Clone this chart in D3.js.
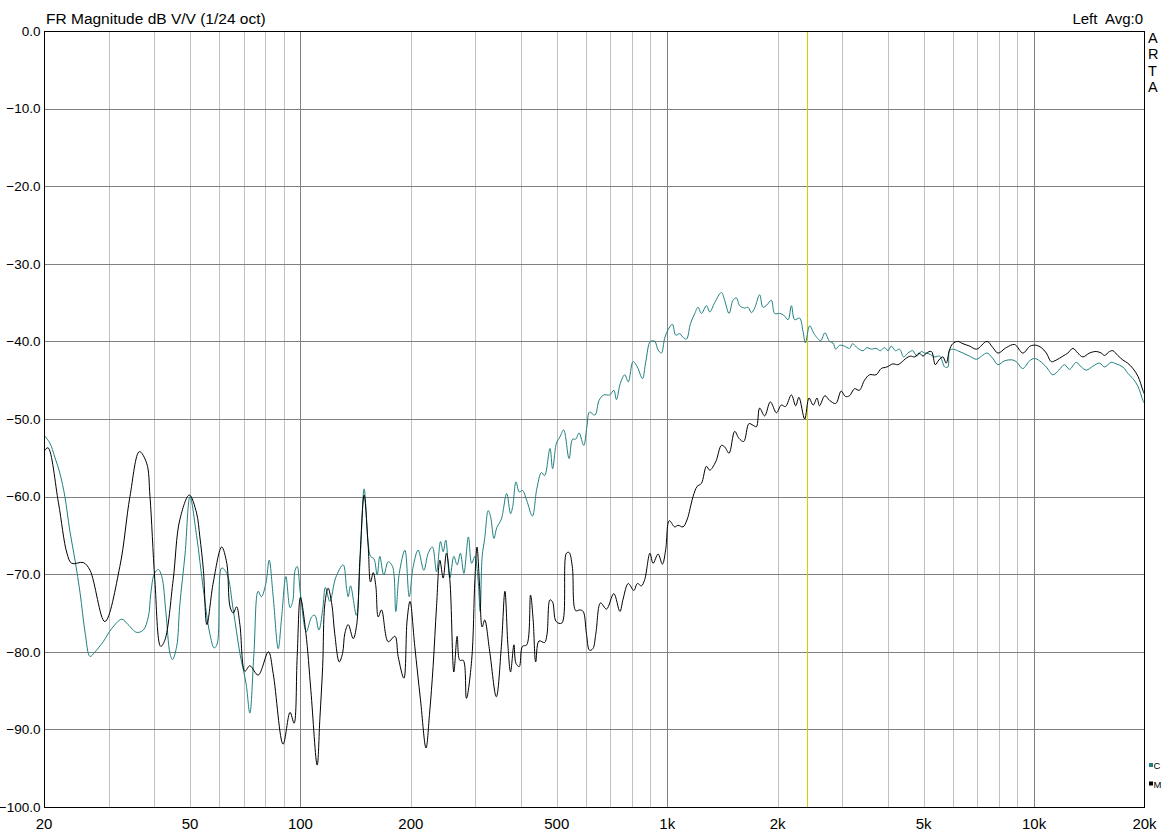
<!DOCTYPE html>
<html><head><meta charset="utf-8">
<script src="https://cdn.jsdelivr.net/npm/d3@7"></script>
<style>
html,body{margin:0;padding:0;background:#fff;overflow:hidden;}
svg text{font-family:"Liberation Sans",Arial,sans-serif;fill:#000;}
</style></head>
<body>
<svg id="chart" width="1162" height="836"></svg>
<script>
// ---- data ----
const xTickValues = [20,50,100,200,500,1000,2000,5000,10000,20000];
const xTickLabels = ["20","50","100","200","500","1k","2k","5k","10k","20k"];
const yTickValues = [0,-10,-20,-30,-40,-50,-60,-70,-80,-90,-100];
const cursorFreq = 2400;

const blackFreq = [20,20.5,21.9,23.1,23.8,25.6,26.7,29.3,32.2,34.3,
36.4,38.1,38.9,40.1,41.6,42.7,45.0,46.9,49.8,52.1,
53.2,54.4,55.6,57.9,61.0,63.0,64.3,65.6,67.0,68.4,
70.6,72.8,76.7,81.8,84.3,89.7,93.7,96.1,98.0,100,
103.5,106.8,111.1,113,115,116.6,119,121.9,124,127.6,
130.3,132.2,135,139.3,142.3,145.3,149.2,153,155.3,158,
160.6,163,166.4,173.5,181,184.7,191.5,195.4,199,205,
212.5,220,225,230,235,240,245,250,255.5,262,
267.5,272,278,283.5,293,299,303,308,313,318,
328,342,353,361,368,374,382,387,395,403,
414,424,431,438,447,463,470,479,487,498,
516,531,540,551,563,578,590,602,614,627,
639,658,683,715,743,758,783,811,829,850,
868,897,915,944,970,990,1013,1048,1070,1104,
1132,1176,1206,1239,1279,1306,1356,1405,1434,1474,
1527,1569,1616,1670,1713,1750,1786,1843,1910,1985,
2046,2100,2180,2240,2285,2370,2435,2500,2560,2600,
2690,2770,2880,2980,3060,3140,3240,3340,3450,3560,
3710,3830,3970,4120,4250,4350,4470,4600,4730,4860,
4980,5090,5250,5380,5500,5640,5760,5880,6000,6190,
6400,6670,6970,7440,7720,7970,8400,8850,9320,9760,
10140,10460,10800,11140,11500,11980,12360,12760,13160,13580,
14160,14770,15240,15560,16060,16400,16900,17460,18000,18600,
19200,19800,20000];
const blackDb = [-54.2,-53.7,-60.8,-67.3,-68.6,-68.5,-69.5,-76.1,-69.0,-60.0,
-54.2,-55.7,-60.0,-70.7,-79.3,-78.5,-70.7,-63.0,-59.8,-62.1,
-65.2,-69.5,-76.5,-71.0,-66.5,-68.6,-74.2,-75.0,-74.2,-76.5,
-82.5,-81.8,-83.0,-80.0,-82.8,-91.9,-87.8,-89.2,-80.6,-73.0,
-77.6,-85.0,-94.6,-88.6,-81.9,-73.8,-71.8,-74.0,-77.6,-81.3,
-80.2,-77.6,-76.5,-78.3,-76.6,-68.0,-59.8,-66.3,-71.0,-69.8,
-71.6,-75.5,-74.6,-78.7,-78.0,-80.6,-83.4,-75.9,-73.5,-79.3,
-86.2,-92.4,-87.9,-81.9,-74.2,-68.2,-70.5,-67.3,-70.7,-82.6,
-78.0,-81.1,-81.1,-86.0,-81.1,-70.7,-66.5,-71.6,-76.8,-75.9,
-79.9,-85.8,-79.3,-72.2,-79.3,-82.6,-79.1,-81.5,-81.9,-79.3,
-79.1,-72.7,-75.9,-81.3,-78.6,-78.8,-77.8,-73.3,-73.6,-76.1,
-76.3,-67.3,-67.2,-69.0,-74.7,-74.6,-74.8,-77.6,-79.8,-79.6,
-77.6,-73.7,-74.5,-72.5,-74.8,-73.2,-71.2,-72.1,-71.2,-71.5,
-70.7,-67.3,-68.6,-67.4,-68.7,-66.9,-63.1,-63.9,-63.7,-63.9,
-63.0,-60.0,-58.7,-58.3,-56.1,-56.6,-55.5,-53.4,-53.6,-54.4,
-51.6,-52.5,-52.9,-50.6,-50.8,-51.0,-48.6,-49.6,-47.8,-49.2,
-48.2,-48.4,-46.9,-48.3,-47.2,-50.0,-47.3,-48.2,-47.3,-48.3,
-47.0,-47.6,-48.0,-46.4,-47.1,-47.0,-46.1,-46.3,-45.0,-44.3,
-44.3,-43.5,-43.3,-42.9,-43.0,-42.7,-42.2,-41.9,-42.0,-41.5,
-41.9,-41.5,-41.3,-43.0,-42.4,-42.0,-42.8,-41.1,-40.3,-40.0,
-40.3,-40.6,-41.0,-40.0,-40.8,-41.5,-40.8,-40.4,-41.5,-40.6,
-40.5,-40.8,-41.5,-42.6,-42.4,-41.9,-41.5,-40.9,-41.5,-42.0,
-41.5,-41.3,-41.5,-41.8,-41.3,-41.2,-41.8,-42.4,-42.8,-43.5,
-44.5,-46.3,-46.8];

const tealFreq = [20,20.75,21.4,22.1,22.8,23.5,24.3,25.1,25.9,26.7,
27.55,29.0,30.6,32.6,33.9,35.8,37.3,38.5,39.1,40.0,
41.0,41.9,43.0,44.1,44.8,46.0,46.9,48.5,50.0,52.1,
54.4,56.6,58.2,59.3,61.0,63.0,65.6,68.4,71.1,72.8,
74.7,76.7,78.3,80.5,82.2,84.3,87.0,88.9,91.3,93.7,
95.3,96.7,98.0,100,103.8,107.3,109.5,112.3,115,117,
120.3,124.9,130.8,133.6,135,137,142.1,145.7,149.2,153,
155.3,158.6,161.9,164.6,168.8,173.5,178.3,182,186,192.7,
198,203,209.4,217,223,229,235,241,245,249,
255.5,262,267.5,273,279,287,293,299,305,309,
313,318,325,330,337,343,353,365,374,379,
387,395,403,414,429,441,454,463,479,487,
499,510,522,540,552,563,575,592,604,614,
635,652,671,697,715,727,745,766,783,807,
829,856,874,900,925,944,964,984,1005,1033,
1055,1082,1100,1128,1157,1189,1213,1239,1279,1306,
1347,1405,1434,1474,1511,1544,1576,1627,1660,1696,
1731,1786,1824,1869,1922,1963,2025,2075,2135,2180,
2225,2295,2345,2380,2445,2520,2620,2690,2770,2830,
2880,2950,3040,3140,3200,3310,3420,3500,3600,3710,
3810,3910,4000,4080,4190,4300,4410,4530,4670,4790,
4930,5030,5170,5360,5530,5710,5820,5880,6000,6190,
6400,6670,6970,7190,7440,7720,7970,8310,8760,8980,
9320,9720,10030,10350,10800,11250,11680,12110,12490,13030,
13450,13880,14460,15080,15560,16230,16750,17460,18000,18600,
19200,19800,20000];
const tealDb = [-52.1,-53.1,-54.9,-57.0,-60.0,-64.3,-68.2,-72.5,-77.6,-80.6,
-80.0,-78.7,-77.0,-75.8,-76.5,-77.5,-77.2,-75.5,-72.5,-69.9,
-69.4,-70.3,-75.0,-80.2,-81.0,-79.3,-74.0,-67.3,-60.0,-65.0,
-72.0,-77.6,-79.5,-79.0,-69.2,-69.9,-74.6,-80.2,-84.1,-87.9,
-80.2,-72.2,-72.9,-71.2,-68.2,-72.9,-79.6,-75.5,-70.3,-74.3,
-73.5,-69.5,-69.0,-72.5,-77.4,-75.5,-75.3,-77.2,-74.6,-71.7,
-73.5,-70.4,-68.8,-71.8,-72.9,-71.5,-75.3,-67.5,-59.0,-66.0,
-67.7,-68.0,-70.1,-67.7,-70.1,-68.4,-69.0,-74.8,-69.9,-66.9,
-72.9,-69.0,-66.9,-69.5,-67.3,-66.5,-69.7,-65.8,-67.1,-65.6,
-70.5,-67.7,-68.8,-67.3,-69.9,-65.2,-68.6,-67.7,-70.7,-74.8,
-67.7,-65.4,-61.8,-62.6,-65.4,-64.0,-62.9,-59.6,-62.2,-61.3,
-58.1,-59.4,-59.2,-60.5,-62.5,-59.0,-56.9,-57.3,-53.8,-56.4,
-53.1,-52.3,-51.4,-55.1,-52.6,-52.6,-51.8,-53.4,-51.0,-49.1,
-49.5,-47.6,-46.9,-46.9,-46.3,-47.5,-45.4,-44.3,-45.2,-42.6,
-43.3,-44.8,-42.6,-40.0,-40.0,-41.1,-41.5,-39.6,-38.5,-37.8,
-39.2,-39.0,-39.4,-39.7,-37.7,-36.4,-35.6,-36.4,-35.4,-36.2,
-35.0,-33.7,-34.7,-36.4,-34.7,-34.4,-35.4,-35.7,-35.6,-36.3,
-35.7,-34.0,-35.6,-35.3,-34.7,-36.4,-36.4,-36.6,-37.2,-35.4,
-37.2,-37.0,-38.7,-40.2,-38.0,-39.1,-39.9,-38.9,-40.0,-40.2,
-41.0,-40.5,-40.6,-40.9,-40.3,-40.9,-41.2,-40.8,-41.0,-40.9,
-41.2,-40.8,-41.2,-40.6,-41.2,-41.0,-42.0,-41.5,-41.2,-41.9,
-41.3,-41.5,-41.6,-42.0,-41.9,-43.3,-43.3,-41.2,-41.0,-41.2,
-41.5,-41.9,-42.3,-41.9,-41.5,-42.2,-43.0,-42.5,-42.4,-42.7,
-43.5,-42.5,-42.2,-42.5,-43.3,-44.3,-43.7,-43.0,-43.6,-42.7,
-43.3,-43.7,-43.2,-42.8,-43.3,-42.7,-42.9,-43.3,-44.1,-44.8,
-45.8,-47.6,-48.0];

const legendLabels = ["C","M"];
const seriesColors = ["#1f8080","#000000"];

// ---- layout ----
const L = 44, R = 1144.5, T = 31, B = 807;
const svg = d3.select("#chart");
const x = d3.scaleLog().domain([20,20000]).range([L,R]);
const y = d3.scaleLinear().domain([-100,0]).range([B,T]);

// minor & major vertical grid
const vLines = [];
[10,100,1000].forEach(dec => { for (let m=1;m<10;m++){ const f=dec*m; if(f>20 && f<20000) vLines.push(f);} });
vLines.push(10000);
const grid = svg.append("g").attr("shape-rendering","crispEdges");
grid.selectAll("line.v").data(vLines).enter().append("line")
  .attr("x1",d=>Math.round(x(d))+0.5).attr("x2",d=>Math.round(x(d))+0.5)
  .attr("y1",T).attr("y2",B)
  .attr("stroke",d=> (d===100||d===1000||d===10000) ? "#808080" : "#c0c0c0")
  .attr("stroke-width",1);
grid.selectAll("line.h").data(yTickValues.filter(v=>v!==0 && v!==-100)).enter().append("line")
  .attr("x1",L).attr("x2",R)
  .attr("y1",d=>Math.round(y(d))+0.5).attr("y2",d=>Math.round(y(d))+0.5)
  .attr("stroke","#808080").attr("stroke-width",1);

// cursor
svg.append("line").attr("shape-rendering","crispEdges")
  .attr("x1",Math.round(x(cursorFreq))+0.5).attr("x2",Math.round(x(cursorFreq))+0.5)
  .attr("y1",T).attr("y2",B).attr("stroke","#d8cc00").attr("stroke-width",1);

// curves
svg.append("defs").append("clipPath").attr("id","clip")
  .append("rect").attr("x",L).attr("y",T).attr("width",R-L).attr("height",B-T);
const line = d3.line().curve(d3.curveCatmullRom.alpha(0.5)).x(d=>x(d[0])).y(d=>y(d[1]));
const teal = tealFreq.map((f,i)=>[f,tealDb[i]]);
const black = blackFreq.map((f,i)=>[f,blackDb[i]]);
const cg = svg.append("g").attr("clip-path","url(#clip)");
cg.append("path").datum(teal).attr("d",line).attr("fill","none").attr("stroke",seriesColors[0]).attr("stroke-width",1);
cg.append("path").datum(black).attr("d",line).attr("fill","none").attr("stroke",seriesColors[1]).attr("stroke-width",1);

// frame
svg.append("rect").attr("shape-rendering","crispEdges")
  .attr("x",L+0.5).attr("y",T+0.5).attr("width",R-L-1).attr("height",B-T-0.5)
  .attr("fill","none").attr("stroke","#000").attr("stroke-width",1);

// y labels
svg.append("g").selectAll("text").data(yTickValues).enter().append("text")
  .attr("x",40.5).attr("y",d=>y(d)).attr("dy","0.36em")
  .attr("text-anchor","end").attr("font-size","13.5px")
  .text(d=>d3.format(".1f")(d));

// x labels
svg.append("g").selectAll("text").data(xTickValues).enter().append("text")
  .attr("x",d=>x(d)).attr("y",829)
  .attr("text-anchor","middle").attr("font-size","15px")
  .text((d,i)=>xTickLabels[i]);

// title and annotations
svg.append("text").attr("x",46).attr("y",24).attr("font-size","15.5px")
  .text("FR Magnitude dB V/V (1/24 oct)");
svg.append("text").attr("x",1143).attr("y",24).attr("font-size","15px")
  .attr("text-anchor","end").attr("xml:space","preserve").text("Left  Avg:0");
["A","R","T","A"].forEach((c,i)=>{
  svg.append("text").attr("x",1148).attr("y",43+i*16.3).attr("font-size","14.5px").text(c);
});

// legend
legendLabels.forEach((lab,i)=>{
  const yy = 765 + i*18.5;
  svg.append("rect").attr("x",1149).attr("y",yy-2).attr("width",4).attr("height",4).attr("fill",seriesColors[i]);
  svg.append("text").attr("x",1153.5).attr("y",yy+4).attr("font-size","9.5px").text(lab);
});
</script>
</body></html>
